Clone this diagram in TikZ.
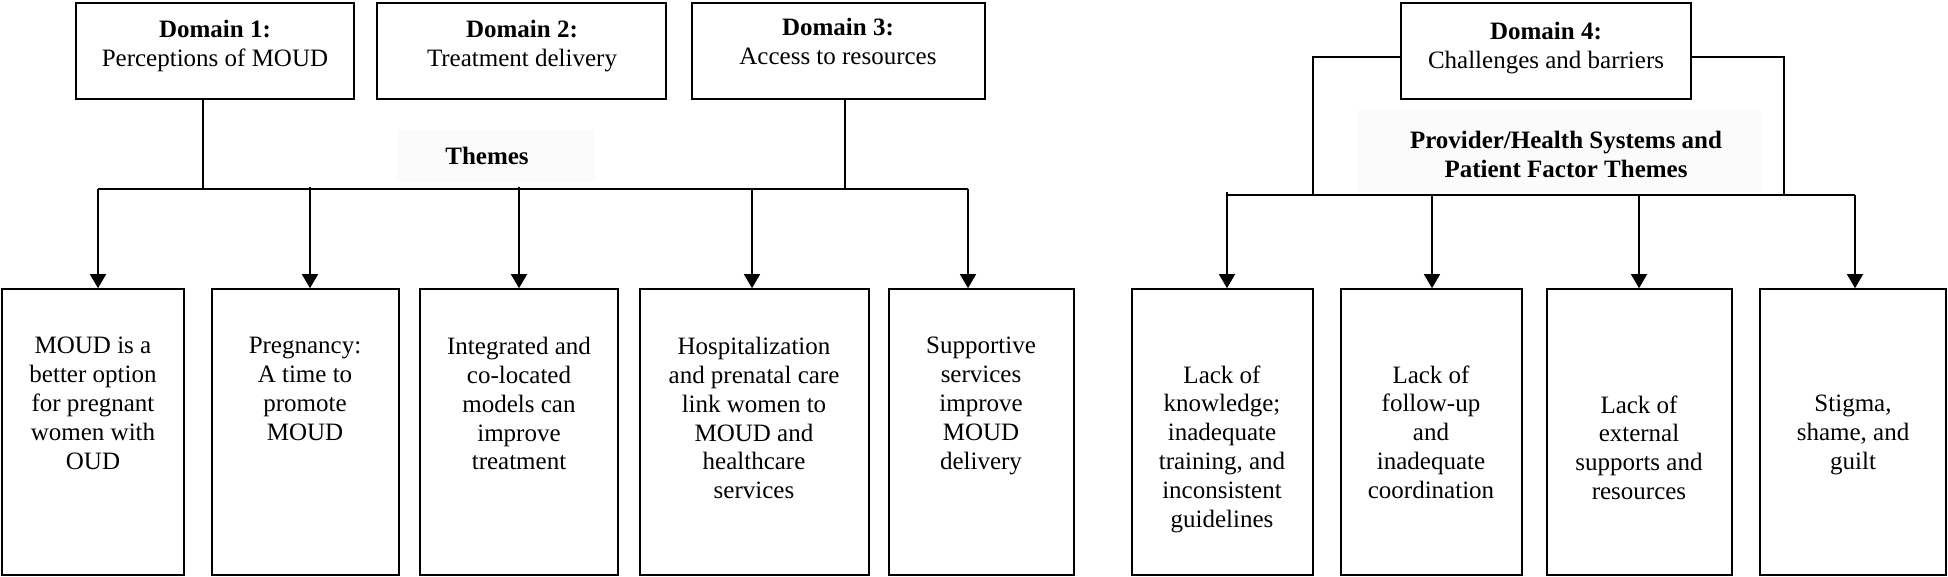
\documentclass[tikz,border=0pt]{standalone}
\usepackage{fontspec}
\setmainfont{Liberation Serif}
\usetikzlibrary{arrows.meta,fit}
\begin{document}
\begin{tikzpicture}[x=0.5pt,y=-0.5pt,
  boxst/.style={draw, line width=0.8pt, inner sep=0pt},
  bgst/.style={fill=black!1.5, draw=none, inner sep=0pt},
  txt/.style={font=\fontsize{12.5}{14.4}\selectfont, align=center, inner sep=0pt, anchor=north},
  hdr/.style={font=\fontsize{12.5}{14.2}\selectfont\bfseries, align=center, inner sep=0pt},
  conn/.style={line width=0.6pt},
  bus/.style={line width=0.8pt},
  arr/.style={line width=0.7pt, -{Triangle[length=7pt,width=8pt]}}]
\useasboundingbox (0,0) rectangle (1948,577);

% header boxes
\node[boxst, fit={(76,3) (354,99)}] (d1) {};
\node[boxst, fit={(377,3) (666,99)}] (d2) {};
\node[boxst, fit={(692,3) (985,99)}] (d3) {};
\node[boxst, fit={(1401,3) (1691,99)}] (d4) {};
\node[txt] (t1) at (215,20) {\textbf{Domain 1:}\\Perceptions of MOUD};
\node[txt] (t2) at (522,20) {\textbf{Domain 2:}\\Treatment delivery};
\node[txt] (t3) at (838,18) {\textbf{Domain 3:}\\Access to resources};
\node[txt] (t4) at (1546,22) {\textbf{Domain 4:}\\Challenges and barriers};

% theme labels
\node[bgst, fit={(397,130) (595,181)}] (thbg) {};
\node[hdr] (themes) at (487,156) {Themes};
\node[bgst, fit={(1357,110) (1761,192)}] (pbg) {};
\node[hdr, anchor=north] (ptheme) at (1566,131) {Provider/Health Systems and\\Patient Factor Themes};

% bottom boxes
\node[boxst, fit={(2,289) (184,575)}] (b1) {};
\node[boxst, fit={(212,289) (399,575)}] (b2) {};
\node[boxst, fit={(420,289) (618,575)}] (b3) {};
\node[boxst, fit={(640,289) (869,575)}] (b4) {};
\node[boxst, fit={(889,289) (1074,575)}] (b5) {};
\node[boxst, fit={(1132,289) (1313,575)}] (b6) {};
\node[boxst, fit={(1341,289) (1522,575)}] (b7) {};
\node[boxst, fit={(1547,289) (1732,575)}] (b8) {};
\node[boxst, fit={(1760,289) (1946,575)}] (b9) {};

\node[txt] (x1) at (93,337) {MOUD is a\\better option\\for pregnant\\women with\\OUD};
\node[txt] (x2) at (305,337) {Pregnancy:\\A time to\\promote\\MOUD};
\node[txt] (x3) at (519,337) {Integrated and\\co-located\\models can\\improve\\treatment};
\node[txt] (x4) at (754,337) {Hospitalization\\and prenatal care\\link women to\\MOUD and\\healthcare\\services};
\node[txt] (x5) at (981,337) {Supportive\\services\\improve\\MOUD\\delivery};
\node[txt] (x6) at (1222,365) {Lack of\\knowledge;\\inadequate\\training, and\\inconsistent\\guidelines};
\node[txt] (x7) at (1431,365) {Lack of\\follow-up\\and\\inadequate\\coordination};
\node[txt] (x8) at (1639,395) {Lack of\\external\\supports and\\resources};
\node[txt] (x9) at (1853,395) {Stigma,\\shame, and\\guilt};

% left connectors
\coordinate (s1) at (203,99);
\coordinate (s3) at (845,99);
\coordinate (bl1) at (98,189);
\coordinate (bl2) at (968,189);
\draw[conn] (s1) -- (s1 |- bl1);
\draw[conn] (s3) -- (s3 |- bl1);
\draw[bus] (bl1) -- (bl2);
\coordinate (a1) at (98,189);
\coordinate (a2) at (310,187);
\coordinate (a3) at (519,187);
\coordinate (a4) at (752,189);
\coordinate (a5) at (968,189);
\draw[arr] (a1) -- (a1 |- b1.north);
\draw[arr] (a2) -- (a2 |- b2.north);
\draw[arr] (a3) -- (a3 |- b3.north);
\draw[arr] (a4) -- (a4 |- b4.north);
\draw[arr] (a5) -- (a5 |- b5.north);

% right connectors
\coordinate (e1) at (1313,57);
\coordinate (e2) at (1784,57);
\coordinate (br1) at (1227,195);
\coordinate (br2) at (1855,195);
\draw[conn] (d4.west |- e1) -- (e1) -- (e1 |- br1);
\draw[conn] (d4.east |- e2) -- (e2) -- (e2 |- br1);
\draw[bus] (br1) -- (br2);
\coordinate (c1) at (1227,192);
\coordinate (c2) at (1432,195);
\coordinate (c3) at (1639,195);
\coordinate (c4) at (1855,195);
\draw[arr] (c1) -- (c1 |- b6.north);
\draw[arr] (c2) -- (c2 |- b7.north);
\draw[arr] (c3) -- (c3 |- b8.north);
\draw[arr] (c4) -- (c4 |- b9.north);
\end{tikzpicture}
\end{document}
